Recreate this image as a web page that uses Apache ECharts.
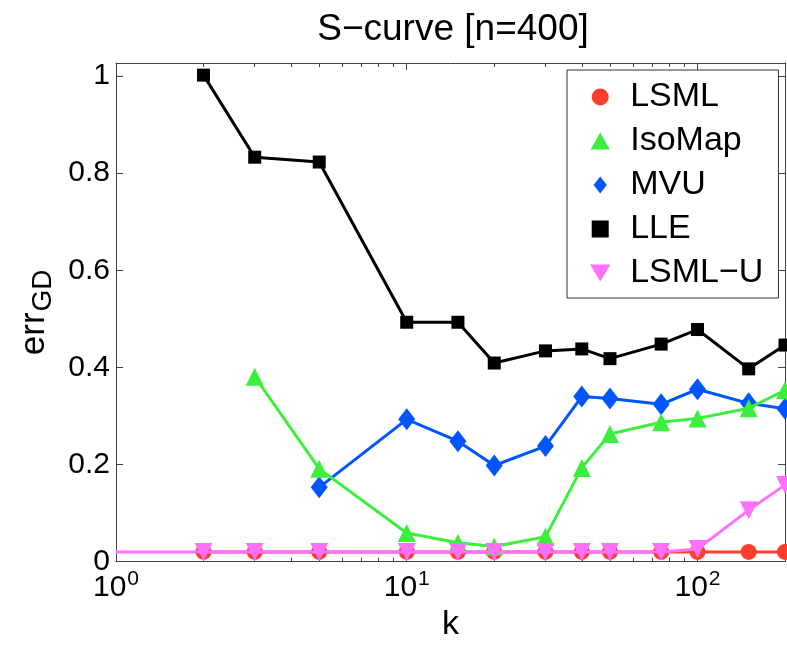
<!DOCTYPE html>
<html>
<head>
<meta charset="utf-8">
<script src="https://cdn.jsdelivr.net/npm/echarts@6/dist/echarts.min.js"></script>
<style>html,body{margin:0;padding:0;background:#fff}#c{width:787px;height:647px}</style>
</head>
<body>
<div id="c"></div>
<script>
// ---- data ----
const kAll  = [2, 3, 5, 10, 15, 20, 30, 40, 50, 75, 100, 150, 200];
const kU    = [1, 2, 3, 5, 10, 15, 20, 30, 40, 50, 75, 100, 150, 200];
const kIso  = [3, 5, 10, 15, 20, 30, 40, 50, 75, 100, 150, 200];
const kMvu  = [5, 10, 15, 20, 30, 40, 50, 75, 100, 150, 200];
const lsml  = [0.02, 0.02, 0.02, 0.02, 0.02, 0.02, 0.02, 0.02, 0.02, 0.02, 0.02, 0.02, 0.02];
const iso   = [0.381, 0.191, 0.059, 0.039, 0.031, 0.051, 0.193, 0.263, 0.287, 0.295, 0.316, 0.353];
const mvu   = [0.153, 0.293, 0.248, 0.198, 0.238, 0.340, 0.336, 0.324, 0.355, 0.326, 0.315];
const lle   = [1.002, 0.833, 0.823, 0.493, 0.493, 0.409, 0.434, 0.438, 0.418, 0.448, 0.478, 0.397, 0.446];
const lsmlU = [0.02, 0.02, 0.02, 0.02, 0.02, 0.02, 0.02, 0.02, 0.02, 0.02, 0.02, 0.026, 0.106, 0.158];
const seriesNames = ['LSML', 'IsoMap', 'MVU', 'LLE', 'LSML\u2212U'];
const xMajor = [1, 10, 100];
const xMinor = [2, 3, 4, 5, 6, 7, 8, 9, 20, 30, 40, 50, 60, 70, 80, 90];
const yTicks = [0, 0.2, 0.4, 0.6, 0.8, 1];
const titleText = 'S\u2212curve [n=400]';

const FONT = 'Liberation Sans';
const AX = '#444';
const zip = (xs, ys) => xs.map((x, i) => [x, ys[i]]);

const chart = echarts.init(document.getElementById('c'), null, {renderer: 'canvas'});

const uData = zip(kU, lsmlU).map((p, i) => i === 0 ? {value: p, symbol: 'none'} : p);

const mkX = (pos, ticks, len, showLine, showLabel) => ({
  type: 'log', logBase: 10, min: 1, max: 200, position: pos, gridIndex: 0,
  axisLine: {show: showLine, lineStyle: {color: AX, width: 1}},
  axisTick: {show: true, inside: true, length: len, customValues: ticks, lineStyle: {color: AX}},
  axisLabel: showLabel ? {
    show: true, customValues: xMajor, margin: 7,
    formatter: v => '{b|10}{s|' + Math.round(Math.log10(v)) + '}',
    rich: {
      b: {fontSize: 30, fontFamily: FONT, color: '#000'},
      s: {fontSize: 21, fontFamily: FONT, color: '#000', padding: [0, 0, 18, 1]}
    }
  } : {show: false},
  splitLine: {show: false}, minorTick: {show: false},
  name: pos === 'bottom' && showLabel ? 'k' : '',
  nameLocation: 'middle', nameGap: 46,
  nameTextStyle: {fontSize: 34, fontFamily: FONT, color: '#000'}
});

const mkY = (pos, showLabel) => ({
  type: 'value', min: 0, max: 1.027, position: pos,
  axisLine: {show: true, lineStyle: {color: AX, width: 1}},
  axisTick: {show: true, inside: true, length: 7, customValues: yTicks, lineStyle: {color: AX}},
  axisLabel: showLabel ? {show: true, customValues: yTicks, margin: 6, fontSize: 30, fontFamily: FONT, color: '#000'} : {show: false},
  splitLine: {show: false},
  name: showLabel ? '{a|err}{b|GD}' : '',
  nameLocation: 'middle', nameGap: 56, nameRotate: 90,
  nameTextStyle: {
    rich: {
      a: {fontSize: 35, fontFamily: FONT, color: '#000'},
      b: {fontSize: 28, fontFamily: FONT, color: '#000', padding: [18, 0, 0, 1]}
    }
  }
});

const colors = ['#FF3D2E', '#3CEF3C', '#0055FF', '#000000', '#FF70FF'];
const base = (name, data, color, symbol, size, z, extra) => Object.assign({
  type: 'line', name, data, z,
  xAxisIndex: 0, yAxisIndex: 0,
  symbol, symbolSize: size, showAllSymbol: true,
  lineStyle: {color, width: 3},
  itemStyle: {color, borderWidth: 0},
  emphasis: {disabled: true},
  animation: false, clip: true
}, extra || {});

const option = {
  backgroundColor: '#fff',
  animation: false,
  title: {
    text: titleText, left: 448, top: 6, textAlign: 'center',
    textStyle: {fontSize: 37, fontWeight: 'normal', fontFamily: FONT, color: '#000'}
  },
  grid: {left: 116, right: 2, top: 63, bottom: 80, containLabel: false},
  xAxis: [
    mkX('bottom', xMajor, 7, true, true),
    mkX('bottom', xMinor, 4, false, false),
    mkX('top', xMajor, 7, true, false),
    mkX('top', xMinor, 4, false, false)
  ],
  yAxis: [mkY('left', true), mkY('right', false)],
  legend: {
    orient: 'vertical', left: 567, top: 70,
    padding: [10, 15, 8, 23], itemGap: 10,
    itemWidth: 50, itemHeight: 17,
    backgroundColor: '#fff', borderColor: '#333', borderWidth: 1,
    textStyle: {fontSize: 34, fontFamily: FONT, color: '#000'},
    selectedMode: false, symbolKeepAspect: true,
    data: [
      {name: seriesNames[0], icon: 'circle'},
      {name: seriesNames[1], icon: 'path://M0,15 L8.5,0 L17,15 Z'},
      {name: seriesNames[2], icon: 'path://M7,0 L14,9 L7,18 L0,9 Z'},
      {name: seriesNames[3], icon: 'path://M0,0 L12,0 L12,12 L0,12 Z'},
      {name: seriesNames[4], icon: 'path://M0,0 L18,0 L9,15 Z'}
    ]
  },
  series: [
    base(seriesNames[0], zip(kAll, lsml), colors[0], 'circle', 16, 2),
    base(seriesNames[1], zip(kIso, iso), colors[1], 'triangle', 18, 4),
    base(seriesNames[2], zip(kMvu, mvu), colors[2], 'diamond', [17, 22], 3),
    base(seriesNames[3], zip(kAll, lle), colors[3], 'rect', 13, 5),
    base(seriesNames[4], uData, colors[4], 'triangle', 18, 6, {symbolRotate: 180})
  ]
};
chart.setOption(option);
</script>
</body>
</html>
